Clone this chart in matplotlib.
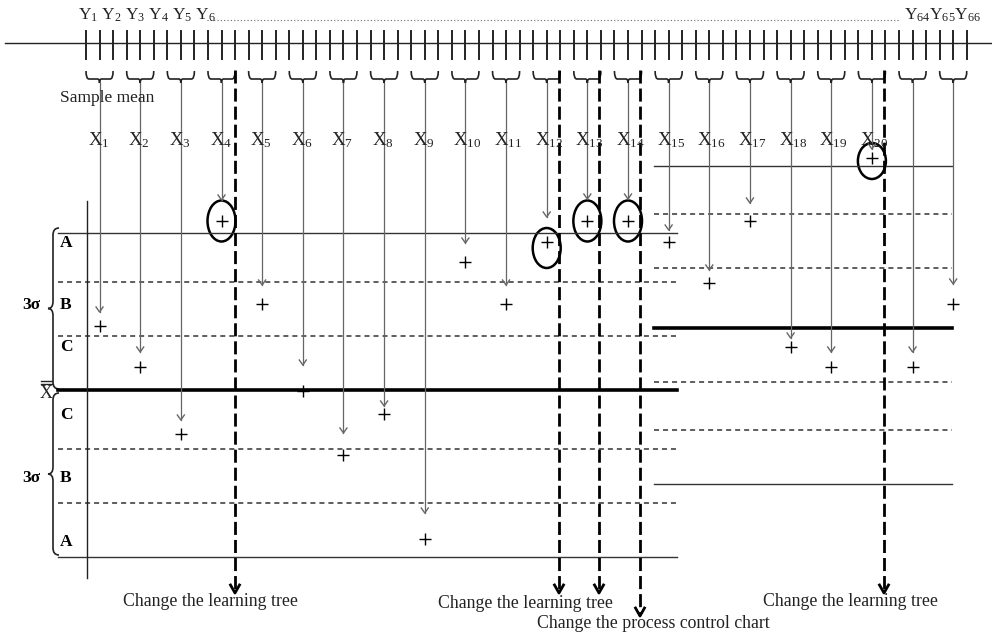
import matplotlib.pyplot as plt
from matplotlib.path import Path
from matplotlib.patches import PathPatch, Ellipse

# sample means (drawn in pixel units, y grows downward) and where each arrow stops
sample_ids = list(range(1, 23))
sample_mean = [326, 367, 434, 221, 304, 391, 455, 414, 539, 262, 304, 242,
               221, 221, 242, 283, 221, 347, 367, 158, 367, 304]
arrow_tip = [312, 352, 420, 200, 285, 365, 433, 406, 513, 243, 285, 217,
             199, 199, 230, 270, 203, 338, 352, 149, 352, 284]
circled = {4: (221, 41), 12: (248, 40), 13: (221, 41), 14: (221, 41), 20: (161, 36)}

left_limits = [233, 282, 336, 390, 449, 503, 557]
right_limits = [166, 214, 268, 328, 382, 430, 484]
limit_kind = ['solid', 'dashed', 'dashed', 'center', 'dashed', 'dashed', 'solid']
zone_labels = ['A', 'B', 'C', 'C', 'B', 'A']
zone_y = [243, 305, 347, 415, 478, 542]

change_x = [235, 559, 599, 640, 884]
change_end = [593, 593, 593, 616, 593]
change_text = ['Change the learning tree', 'Change the learning tree',
               'Change the process control chart', 'Change the learning tree']
change_text_pos = [(210, 602), (525, 603), (653, 623), (850, 602)]

n_obs = 66; tick_x0 = 86; tick_step = 13.55; group = 3

plt.rcParams.update({'font.family': 'Liberation Serif', 'mathtext.fontset': 'custom',
                     'mathtext.rm': 'Liberation Serif', 'mathtext.it': 'Liberation Serif:italic'})
fig = plt.figure(figsize=(9.92, 6.39), dpi=100)
ax = fig.add_axes([0, 0, 1, 1])
ax.set_xlim(0, 992); ax.set_ylim(639, 0); ax.axis('off')

gray = '#666666'; ink = '#222222'

# time axis with observations
ax.plot([5, 992], [43, 43], color=ink, lw=1)
for i in range(n_obs):
    x = tick_x0 + i * tick_step
    ax.plot([x, x], [31, 59], color=ink, lw=1.4)
ax.text(78, 15, 'Y$_1$ Y$_2$ Y$_3$ Y$_4$ Y$_5$ Y$_6$', fontsize=12.5, color=ink, va='center')
ax.plot([207, 900], [20, 20], color=gray, lw=0.8, linestyle=(0, (1, 2)))
ax.text(904, 15, 'Y$_{64}$Y$_{65}$Y$_{66}$', fontsize=12.5, color=ink, va='center')
ax.text(60, 98, 'Sample mean', fontsize=12.5, color=ink, va='center')


def bracket(xl, xr, top=71, mid=79, tip=83):
    xc = (xl + xr) / 2
    verts = [(xl, top), (xl, mid), (xl + 3, mid), (xc - 2, mid), (xc, mid), (xc, tip),
             (xc, mid), (xc + 2, mid), (xr - 3, mid), (xr, mid), (xr, top)]
    codes = [Path.MOVETO, Path.CURVE3, Path.CURVE3, Path.LINETO, Path.CURVE3, Path.CURVE3,
             Path.CURVE3, Path.CURVE3, Path.LINETO, Path.CURVE3, Path.CURVE3]
    ax.add_patch(PathPatch(Path(verts, codes), fill=False, color=ink, lw=1.2))


def brace(top, bot, xr=59, xm=53, xt=48):
    ym = (top + bot) / 2
    verts = [(xr, top), (xm, top), (xm, top + 7), (xm, ym - 7), (xm, ym), (xt, ym),
             (xm, ym), (xm, ym + 7), (xm, bot - 7), (xm, bot), (xr, bot)]
    codes = [Path.MOVETO, Path.CURVE3, Path.CURVE3, Path.LINETO, Path.CURVE3, Path.CURVE3,
             Path.CURVE3, Path.CURVE3, Path.LINETO, Path.CURVE3, Path.CURVE3]
    ax.add_patch(PathPatch(Path(verts, codes), fill=False, color=ink, lw=1.2))


# limit lines for the two charts
def limits(levels, x0, x1):
    for y, kind in zip(levels, limit_kind):
        if kind == 'solid':
            ax.plot([x0, x1], [y, y], color='#333333', lw=1)
        elif kind == 'center':
            ax.plot([x0, x1], [y, y], color='black', lw=2.6)
        else:
            ax.plot([x0, x1], [y, y], color='#333333', lw=1.1, linestyle=(0, (3.3, 2.6)))


limits(left_limits, 58, 677)
limits(right_limits, 654, 952)
ax.plot([87, 87], [201, 578], color=ink, lw=1)
brace(228, 389); brace(393, 555)
ax.text(22, 305, '3σ', fontsize=12.5, fontweight='bold', va='center')
ax.text(22, 478, '3σ', fontsize=12.5, fontweight='bold', va='center')
for lab, y in zip(zone_labels, zone_y):
    ax.text(60, y, lab, fontsize=12.5, fontweight='bold', va='center')
ax.text(46.5, 394, 'X', fontsize=13, ha='center', va='center', color=ink)
ax.plot([41, 52], [381, 381], color=ink, lw=1); ax.plot([41, 52], [384, 384], color=ink, lw=1)

# samples: bracket, arrow to the chart, plotted mean
for k, (i, m, tip) in enumerate(zip(sample_ids, sample_mean, arrow_tip)):
    xl = tick_x0 + k * group * tick_step
    xr = xl + (group - 1) * tick_step
    xc = (xl + xr) / 2
    bracket(xl, xr)
    ax.plot([xc, xc], [83, tip], color=gray, lw=0.9)
    ax.plot([xc - 3.5, xc, xc + 3.5], [tip - 5, tip, tip - 5], color=gray, lw=1)
    ax.plot(xc, m, marker='+', color='black', markersize=9, mew=1)
    if i <= 20:
        ax.text(xc - 12, 140, 'X$_{%d}$' % i, fontsize=13.5, color=ink, va='center')
    if i in circled:
        cy, h = circled[i]
        ax.add_patch(Ellipse((xc, cy), 28, h, fill=False, color='black', lw=1.8))

# dashed change lines with labels
for x, y1 in zip(change_x, change_end):
    ax.plot([x, x], [70, y1 - 2], color='black', lw=2, linestyle=(0, (4.7, 1.8)))
    ax.plot([x - 4.5, x, x + 4.5], [y1 - 8, y1, y1 - 8], color='black', lw=2)
for s, (x, y) in zip(change_text, change_text_pos):
    ax.text(x, y, s, fontsize=12.8, ha='center', va='center', color=ink)

fig.savefig('out.png', dpi=100)
